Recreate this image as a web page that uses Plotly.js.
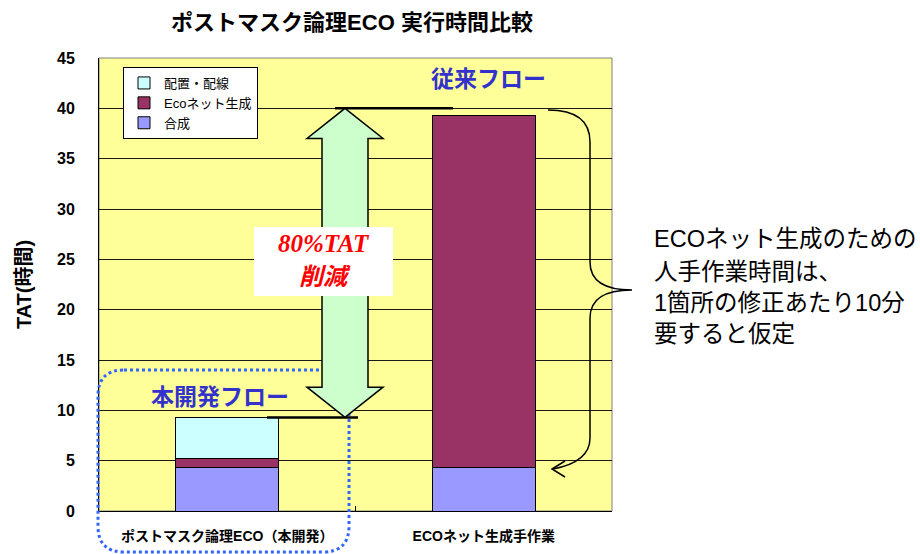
<!DOCTYPE html>
<html>
<head>
<meta charset="utf-8">
<script src="https://cdn.plot.ly/plotly-3.0.1.min.js"></script>
<style>html,body{margin:0;padding:0;background:#fff;}#chart{width:920px;height:554px;}</style>
</head>
<body>
<div id="chart"></div>
<script>
// ---- data ----
const categories = ['ポストマスク論理ECO（本開発）', 'ECOネット生成手作業'];
const goseiValues = [4.3, 4.3];        // 合成
const ecoNetValues = [0.9, 35.0];      // Ecoネット生成
const haichiValues = [4.1, 0];         // 配置・配線
const seriesNames = ['合成', 'Ecoネット生成', '配置・配線'];
const seriesColors = ['#9999FF', '#993366', '#CCFFFF'];
const yTickValues = [0, 5, 10, 15, 20, 25, 30, 35, 40, 45];
const conventionalLevel = 40;          // 従来フロー level line
const titleText = 'ポストマスク論理ECO 実行時間比較';
const yTitleText = 'TAT(時間)';
const noteLines = ['ECOネット生成のための', '人手作業時間は、', '1箇所の修正あたり10分', '要すると仮定'];

// ---- layout helpers (pixel -> paper) ----
const L = 99, R = 612, T = 58, B = 511, W = 920, H = 554;
const fx = x => (x - L) / (R - L);
const fy = y => (B - y) / (B - T);
const P = (x, y) => fx(x).toFixed(5) + ',' + fy(y).toFixed(5);

const JP = '"Noto Sans CJK JP", sans-serif';
const MIX = '"Liberation Sans", "Noto Sans CJK JP", sans-serif';

const newTotal = goseiValues[0] + ecoNetValues[0] + haichiValues[0];

const seriesData = [goseiValues, ecoNetValues, haichiValues];
const traces = seriesData.map((vals, i) => ({
  type: 'bar',
  name: seriesNames[i],
  x: categories,
  y: vals,
  marker: {color: seriesColors[i], line: {color: '#000', width: 1}},
  hoverinfo: 'skip'
}));

// dotted rounded rectangle
const dl = 98, dr = 349, dt = 370, db = 552, rr = 26;
const dottedPath = 'M' + P(dl + rr, dt) + ' L' + P(dr - rr, dt) + ' Q' + P(dr, dt) + ' ' + P(dr, dt + rr) +
  ' L' + P(dr, db - rr) + ' Q' + P(dr, db) + ' ' + P(dr - rr, db) +
  ' L' + P(dl + rr, db) + ' Q' + P(dl, db) + ' ' + P(dl, db - rr) +
  ' L' + P(dl, dt + rr) + ' Q' + P(dl, dt) + ' ' + P(dl + rr, dt) + ' Z';

// double arrow (x in paper, y in data)
const xc = fx(345), hw = 38 / (R - L), sw = 23 / (R - L), hl = 3.0;
const A = (x, y) => x.toFixed(5) + ',' + y.toFixed(4);
const yt = conventionalLevel, yb = newTotal;
const arrowPath = 'M' + A(xc, yt) + ' L' + A(xc + hw, yt - hl) + ' L' + A(xc + sw, yt - hl) +
  ' L' + A(xc + sw, yb + hl) + ' L' + A(xc + hw, yb + hl) + ' L' + A(xc, yb) +
  ' L' + A(xc - hw, yb + hl) + ' L' + A(xc - sw, yb + hl) + ' L' + A(xc - sw, yt - hl) +
  ' L' + A(xc - hw, yt - hl) + ' Z';

// brace
const bracePath = 'M' + P(548, 110) + ' Q' + P(590, 110) + ' ' + P(590, 142) +
  ' L' + P(590, 262) + ' Q' + P(590, 290) + ' ' + P(632, 290) +
  ' Q' + P(590, 290) + ' ' + P(590, 318) + ' L' + P(590, 438) +
  ' Q' + P(590, 462) + ' ' + P(553, 469);
const braceHead = 'M' + P(565, 461) + ' L' + P(552, 469) + ' L' + P(565, 477);

const shapes = [
  {type: 'rect', xref: 'paper', yref: 'paper', x0: 0, x1: 1, y0: 0, y1: 1, layer: 'below',
   line: {color: '#808080', width: 1}},
  {type: 'path', xref: 'paper', yref: 'paper', path: dottedPath, line: {color: '#3366FF', width: 3, dash: 'dot'}},
  {type: 'line', xref: 'paper', yref: 'y', x0: fx(335), x1: fx(453), y0: conventionalLevel, y1: conventionalLevel,
   line: {color: '#000', width: 2.5}},
  {type: 'line', xref: 'paper', yref: 'y', x0: fx(267), x1: fx(358), y0: newTotal, y1: newTotal,
   line: {color: '#000', width: 2.5}},
  {type: 'path', xref: 'paper', yref: 'y', path: arrowPath, fillcolor: '#CCFFCC', line: {color: '#000', width: 1.5}},
  {type: 'rect', xref: 'paper', yref: 'paper', x0: fx(254), x1: fx(393), y0: fy(296), y1: fy(227),
   fillcolor: '#FFFFFF', line: {width: 0}},
  {type: 'path', xref: 'paper', yref: 'paper', path: bracePath, line: {color: '#000', width: 1.5}},
  {type: 'path', xref: 'paper', yref: 'paper', path: braceHead, line: {color: '#000', width: 1.5}}
];

const annotations = [
  {xref: 'paper', yref: 'paper', x: fx(488), y: fy(77), xanchor: 'center', yanchor: 'middle', text: '従来フロー', showarrow: false,
   font: {family: JP, size: 23, color: '#3333CC', weight: 'bold'}},
  {xref: 'paper', yref: 'paper', x: fx(220), y: fy(395), xanchor: 'center', yanchor: 'middle', text: '本開発フロー', showarrow: false,
   font: {family: JP, size: 23, color: '#3333CC', weight: 'bold'}},
  {xref: 'paper', yref: 'paper', x: fx(324), y: fy(243), xanchor: 'center', yanchor: 'middle', text: '80%TAT', showarrow: false,
   font: {family: '"Liberation Serif", serif', size: 25, color: '#FF0000', weight: 'bold', style: 'italic'}},
  {xref: 'paper', yref: 'paper', x: fx(325), y: fy(277), xanchor: 'center', yanchor: 'middle', text: '削減', showarrow: false,
   font: {family: '"Liberation Serif", "Noto Sans CJK JP", serif', size: 24, color: '#FF0000', weight: 'bold', style: 'italic'}}
];
const noteY = [239, 272, 303, 334];
noteLines.forEach((t, i) => annotations.push({
  xref: 'paper', yref: 'paper', x: fx(652), y: fy(noteY[i]), xanchor: 'left', yanchor: 'middle',
  text: t, showarrow: false, font: {family: MIX, size: 23.5, color: '#000'}
}));

const layout = {
  width: W, height: H,
  margin: {l: L, r: W - R, t: T, b: H - B, pad: 0},
  paper_bgcolor: '#FFFFFF',
  plot_bgcolor: '#FFFF99',
  barmode: 'stack',
  bargap: 0.6,
  showlegend: true,
  title: {text: titleText, xref: 'paper', x: fx(352), xanchor: 'center', yref: 'container', y: 1 - 22 / H, yanchor: 'middle',
          font: {family: MIX, size: 22, color: '#000', weight: 'bold'}},
  legend: {x: fx(123), y: fy(67), xanchor: 'left', yanchor: 'top', bgcolor: '#FFFFFF', bordercolor: '#000', borderwidth: 1,
           traceorder: 'reversed', font: {family: MIX, size: 13, color: '#000'}, tracegroupgap: 0},
  xaxis: {type: 'category', showgrid: false, showline: true, linecolor: '#000', linewidth: 1,
          ticks: 'inside', tickson: 'boundaries', ticklen: 5, tickcolor: '#000', ticklabelstandoff: 12,
          tickfont: {family: MIX, size: 14, color: '#000', weight: 'bold'}, fixedrange: true},
  yaxis: {range: [0, 45], tickvals: yTickValues, ticktext: yTickValues.map(String), showgrid: true, gridcolor: '#1a1a1a', gridwidth: 1,
          zeroline: false, showline: true, linecolor: '#000', linewidth: 1, ticks: '', ticklabelstandoff: 20,
          tickfont: {family: MIX, size: 16, color: '#000', weight: 'bold'},
          title: {text: yTitleText, standoff: 20, font: {family: MIX, size: 20, color: '#000', weight: 'bold'}}, fixedrange: true},
  shapes: shapes,
  annotations: annotations
};

Plotly.newPlot('chart', traces, layout, {displayModeBar: false, staticPlot: true});
</script>
</body>
</html>
